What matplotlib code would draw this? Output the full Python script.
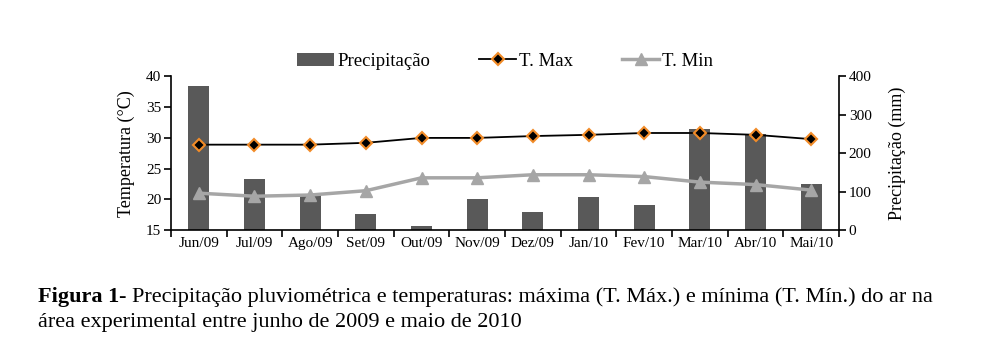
import matplotlib.pyplot as plt
import numpy as np

plt.rcParams['font.family'] = ['Liberation Serif', 'DejaVu Serif']

months = ['Jun/09', 'Jul/09', 'Ago/09', 'Set/09', 'Out/09', 'Nov/09',
          'Dez/09', 'Jan/10', 'Fev/10', 'Mar/10', 'Abr/10', 'Mai/10']
precip = [375, 132, 94, 43, 11, 81, 48, 86, 65, 262, 249, 119]
t_max = [28.9, 28.9, 28.9, 29.2, 30.0, 30.0, 30.3, 30.5, 30.8, 30.8, 30.5, 29.8]
t_min = [21.0, 20.5, 20.7, 21.4, 23.5, 23.5, 24.0, 24.0, 23.7, 22.8, 22.4, 21.5]

x = np.arange(len(months))

fig = plt.figure(figsize=(10.04, 3.53), dpi=100)
ax = fig.add_axes([0.1703, 0.3484, 0.6654, 0.4349])
ax2 = ax.twinx()

# bars on the secondary axis, lines drawn above them
bars = ax2.bar(x, precip, width=0.38, color='#595959', label='Precipitação')
ax.set_zorder(ax2.get_zorder() + 1)
ax.patch.set_visible(False)

l1, = ax.plot(x, t_max, color='black', lw=1.3, marker='D', ms=6,
              mfc='black', mec='#F28C28', mew=1.5, label='T. Max')
l2, = ax.plot(x, t_min, color='#A6A6A6', lw=2.5, marker='^', ms=8,
              mfc='#A6A6A6', mec='#A6A6A6', label='T. Min')

ax.set_xlim(-0.5, len(months) - 0.5)
ax.set_ylim(15, 40)
ax.set_yticks(range(15, 41, 5))
ax2.set_ylim(0, 400)
ax2.set_yticks(range(0, 401, 100))

# ticks at category boundaries, labels at centres
ax.set_xticks(np.arange(-0.5, len(months), 1))
ax.set_xticklabels([])
ax.set_xticks(x, minor=True)
ax.set_xticklabels(months, minor=True)
ax.tick_params(axis='x', which='major', direction='out', length=5, width=1.2)
ax.tick_params(axis='x', which='minor', length=0, pad=5, labelsize=11)
ax.tick_params(axis='y', direction='out', length=5, width=1.2, labelsize=11, pad=2)
ax2.tick_params(axis='y', direction='out', length=5, width=1.2, labelsize=11, pad=2)

for a in (ax, ax2):
    a.spines['top'].set_visible(False)
    for s in ('left', 'right', 'bottom'):
        a.spines[s].set_linewidth(1.2)
ax.spines['right'].set_visible(False)
ax2.spines['left'].set_visible(False)
ax2.spines['bottom'].set_visible(False)

ax.set_ylabel('Temperatura (°C)', fontsize=13, labelpad=8)
ax2.set_ylabel('Precipitação (mm)', fontsize=13, labelpad=12, rotation=90)

fig.legend([bars, l1, l2], ['Precipitação', 'T. Max', 'T. Min'],
           loc='center', bbox_to_anchor=(0.503, 0.827), ncol=3, frameon=False,
           fontsize=13.5, handlelength=2.0, columnspacing=2.6, handletextpad=0.15)

# caption with bold prefix
fig.canvas.draw()
r = fig.canvas.get_renderer()
t1 = fig.text(0.038, 0.1586, 'Figura 1', fontsize=16, fontweight='bold', va='center')
bb = t1.get_window_extent(renderer=r)
fig.text(bb.x1 / fig.bbox.width, 0.1586,
         '- Precipitação pluviométrica e temperaturas: máxima (T. Máx.) e mínima (T. Mín.) do ar na',
         fontsize=16, va='center')
fig.text(0.038, 0.086, 'área experimental entre junho de 2009 e maio de 2010',
         fontsize=16, va='center')

fig.savefig('out.png', dpi=100)
